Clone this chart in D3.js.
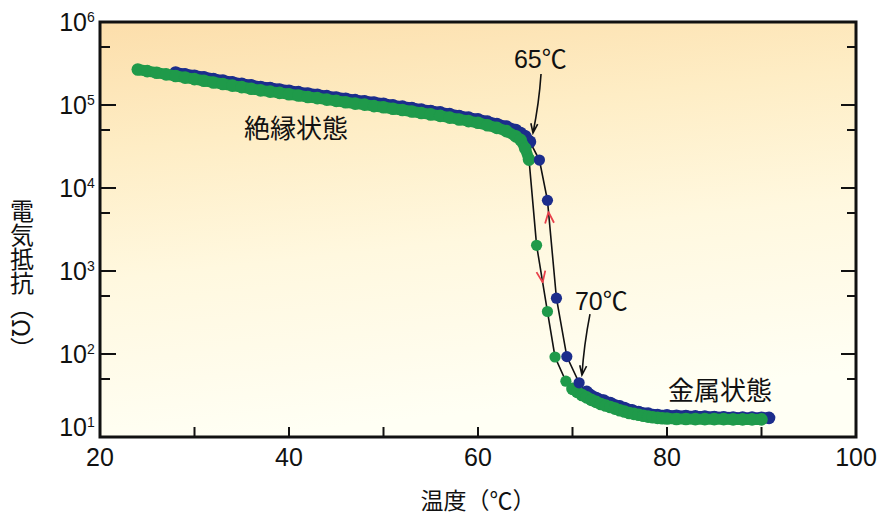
<!DOCTYPE html>
<html>
<head>
<meta charset="utf-8">
<script src="https://cdn.jsdelivr.net/npm/d3@7"></script>
<style>
  html, body { margin: 0; padding: 0; background: #ffffff; }
  svg { display: block; }
</style>
</head>
<body>
<svg id="chart" width="886" height="523"></svg>
<script>
// Heating run (blue): insulating branch, switching points, metallic branch  [°C, Ω]
const heatInsulating = [
  [28, 246000], [29, 235000], [30, 225000], [31, 216000], [32, 206000], [33, 197000],
  [34, 188000], [35, 180000], [36, 173000], [37, 165000], [38, 160000], [39, 154000],
  [40, 148500], [41, 143000], [42, 137500], [43, 133000], [44, 128000], [45, 123000],
  [46, 119000], [47, 114500], [48, 111000], [49, 107000], [50, 103500], [51, 99000],
  [52, 95700], [53, 92000], [54, 88000], [55, 84700], [56, 81400], [57, 77600],
  [58, 73700], [59, 70400], [60, 67100], [61, 63000], [62, 59000], [63, 55000],
  [64, 50000], [64.5, 46000], [65, 42000], [65.5, 36000]
];
const heatSwitch = [[66.5, 21700], [67.35, 7100], [68.3, 470], [69.4, 93], [70.7, 45]];
const heatMetal = [
  [71.5, 35], [72.5, 29.5], [73.3, 27.5], [74, 25.7], [75, 23.4], [75.5, 22.4],
  [76.3, 21], [77, 20], [78, 19.1], [79, 18.4], [80, 18.2], [81, 18], [82, 17.9],
  [83, 17.7], [84, 17.6], [85, 17.4], [86, 17.3], [87, 17.2], [88, 17.1], [89, 17.1],
  [90, 17], [90.8, 17]
];

// Cooling run (green)
const coolInsulating = [
  [24, 268000], [25, 256000], [26, 245000], [27, 234000], [28, 224000], [29, 214000],
  [30, 205000], [31, 196000], [32, 187000], [33, 179000], [34, 171000], [35, 164000],
  [36, 157000], [37, 150000], [38, 145000], [39, 140000], [40, 135000], [41, 130000],
  [42, 125000], [43, 121000], [44, 116000], [45, 112000], [46, 108000], [47, 104000],
  [48, 101000], [49, 97000], [50, 94000], [51, 90000], [52, 87000], [53, 83500],
  [54, 80000], [55, 77000], [56, 74000], [57, 70500], [58, 67000], [59, 64000],
  [60, 61000], [61, 57000], [62, 53000], [63, 48500], [64, 42000], [64.5, 38000],
  [65, 30000], [65.4, 22000]
];
const coolSwitch = [[66.2, 2040], [67.35, 325], [68.15, 92], [69.3, 47]];
const coolMetal = [
  [70, 38], [70.5, 35], [71, 32], [71.5, 30], [72, 28], [72.5, 26.5], [73, 25],
  [73.5, 24], [74, 23], [74.5, 22], [75, 21], [75.5, 20.3], [76, 19.5], [76.5, 19],
  [77, 18.5], [77.5, 18], [78, 17.6], [78.5, 17.3], [79, 17], [79.5, 16.8], [80, 16.7],
  [81, 16.5], [82, 16.5], [83, 16.4], [84, 16.4], [85, 16.4], [86, 16.4], [87, 16.3],
  [88, 16.3], [89, 16.3], [90, 16.3]
];

// Axis ticks
const xTickLabels = [20, 40, 60, 80, 100];
const xMinorTicks = [30, 40, 50, 60, 70, 80, 90];
const yExponents = [1, 2, 3, 4, 5, 6];
const yMinorTicks = [50, 500, 5000, 50000, 500000];

// Text annotations placed in data space [°C, Ω]
const stateLabels = [
  { text: "絶縁状態", t: 40.74, r: 40000 },
  { text: "金属状態", t: 85.6, r: 27.9 }
];
const tempLabels = [
  { text: "65℃", t: 66.6, r: 279000, anchor: "middle",
    from: [66.67, 236000], to: [65.82, 46000], bend: 2 },
  { text: "70℃", t: 70.26, r: 339, anchor: "start",
    from: [71.85, 303], to: [71.0, 55.8], bend: -2 }
];

const colors = { heat: "#1c2d8c", cool: "#1f9a4a", arrow: "#e8404a", ink: "#111111" };

const svg = d3.select("#chart");
const plot = { left: 100, right: 856, top: 22, bottom: 437 };

const x = d3.scaleLinear().domain([20, 100]).range([plot.left, plot.right]);
const y = d3.scaleLog().domain([10, 1e6]).range([plot.bottom, plot.top]);

// Background wash of the plotting area
const defs = svg.append("defs");
const grad = defs.append("linearGradient")
  .attr("id", "bg").attr("x1", 0).attr("y1", 0).attr("x2", 0.2).attr("y2", 1);
[["0", "#fcdeab"], ["0.3", "#feedc5"], ["0.6", "#fff8df"], ["0.85", "#fffcec"], ["1", "#fffff4"]]
  .forEach(([o, c]) => grad.append("stop").attr("offset", o).attr("stop-color", c));

svg.append("rect")
  .attr("x", plot.left).attr("y", plot.top)
  .attr("width", plot.right - plot.left).attr("height", plot.bottom - plot.top)
  .attr("fill", "url(#bg)");

const line = d3.line().x(d => x(d[0])).y(d => y(d[1]));

// Thin black connectors through the switching points
function connector(ins, sw, met) {
  const pts = [ins[ins.length - 1], ...sw, met[0]];
  svg.append("path").attr("d", line(pts))
    .attr("fill", "none").attr("stroke", colors.ink).attr("stroke-width", 1.6);
}
connector(heatInsulating, heatSwitch, heatMetal);
connector(coolInsulating, coolSwitch, coolMetal);

// Dense measurement bands
function band(data, color) {
  svg.append("path").attr("d", line(data))
    .attr("fill", "none").attr("stroke", color).attr("stroke-width", 11)
    .attr("stroke-linecap", "round").attr("stroke-linejoin", "round");
  svg.append("g").selectAll("circle").data(data).join("circle")
    .attr("cx", d => x(d[0])).attr("cy", d => y(d[1])).attr("r", 6.3)
    .attr("fill", color);
}
function dots(data, color) {
  svg.append("g").selectAll("circle").data(data).join("circle")
    .attr("cx", d => x(d[0])).attr("cy", d => y(d[1])).attr("r", 5.6)
    .attr("fill", color);
}

band(heatInsulating, colors.heat);
band(heatMetal, colors.heat);
band(coolInsulating, colors.cool);
band(coolMetal, colors.cool);
dots(coolSwitch, colors.cool);
dots(heatSwitch, colors.heat);

// Red direction chevrons on the switching branches
function chevron(p0, p1, frac, dir) {
  const ax = x(p0[0]) + (x(p1[0]) - x(p0[0])) * frac;
  const ay = y(p0[1]) + (y(p1[1]) - y(p0[1])) * frac;
  let ang = Math.atan2(y(p1[1]) - y(p0[1]), x(p1[0]) - x(p0[0]));
  if (dir < 0) ang += Math.PI;
  const len = 12, spread = 0.38;
  const a1 = ang + Math.PI - spread, a2 = ang + Math.PI + spread;
  const p = d3.path();
  p.moveTo(ax + len * Math.cos(a1), ay + len * Math.sin(a1));
  p.lineTo(ax, ay);
  p.lineTo(ax + len * Math.cos(a2), ay + len * Math.sin(a2));
  svg.append("path").attr("d", p.toString())
    .attr("fill", "none").attr("stroke", colors.arrow).attr("stroke-width", 1.8)
    .attr("stroke-linejoin", "round");
}
chevron(heatSwitch[1], heatSwitch[2], 0.12, -1);
chevron(coolSwitch[0], coolSwitch[1], 0.56, 1);

// Frame and inward ticks
const tick = (x1, y1, x2, y2, w) => svg.append("line")
  .attr("x1", x1).attr("y1", y1).attr("x2", x2).attr("y2", y2)
  .attr("stroke", colors.ink).attr("stroke-width", w);

yExponents.forEach(e => {
  const v = y(Math.pow(10, e));
  tick(plot.left, v, plot.left + 16, v, 2);
  tick(plot.right, v, plot.right - 15, v, 2);
});
yMinorTicks.forEach(m => {
  const v = y(m);
  tick(plot.left, v, plot.left + 10, v, 2);
  tick(plot.right, v, plot.right - 9, v, 2);
});
xMinorTicks.forEach(t => {
  const v = x(t);
  tick(v, plot.bottom, v, plot.bottom - 10, 2);
});

svg.append("rect")
  .attr("x", plot.left).attr("y", plot.top)
  .attr("width", plot.right - plot.left).attr("height", plot.bottom - plot.top)
  .attr("fill", "none").attr("stroke", colors.ink).attr("stroke-width", 3);

// Tick labels
const numFont = "'Liberation Sans', Arial, 'Noto Sans CJK JP', sans-serif";
const jpFont = "'Noto Sans CJK JP', sans-serif";

svg.append("g").selectAll("text").data(xTickLabels).join("text")
  .attr("x", d => x(d)).attr("y", 466)
  .attr("text-anchor", "middle")
  .attr("font-family", numFont).attr("font-size", 25).attr("fill", colors.ink)
  .text(d => d);

yExponents.forEach(e => {
  const v = y(Math.pow(10, e)) - (e === 1 ? 10 : 0);
  svg.append("text")
    .attr("x", 87).attr("y", v + 9)
    .attr("text-anchor", "end")
    .attr("font-family", numFont).attr("font-size", 25).attr("fill", colors.ink)
    .text("10");
  svg.append("text")
    .attr("x", 87).attr("y", v)
    .attr("font-family", numFont).attr("font-size", 14).attr("fill", colors.ink)
    .text(e);
});

// Axis titles
svg.append("text")
  .attr("x", x(60)).attr("y", 509)
  .attr("text-anchor", "middle")
  .attr("font-family", jpFont).attr("font-size", 23).attr("fill", colors.ink)
  .text("温度（℃）");

svg.append("text")
  .attr("x", 22).attr("y", 199)
  .attr("font-family", jpFont).attr("font-size", 24).attr("fill", colors.ink)
  .style("writing-mode", "vertical-rl")
  .text("電気抵抗（Ω）");

// State labels
stateLabels.forEach(l => {
  svg.append("text")
    .attr("x", x(l.t)).attr("y", y(l.r))
    .attr("text-anchor", "middle")
    .attr("font-family", jpFont).attr("font-size", 26).attr("fill", colors.ink)
    .text(l.text);
});

// Temperature call-outs with arrows
tempLabels.forEach(l => {
  svg.append("text")
    .attr("x", x(l.t)).attr("y", y(l.r))
    .attr("text-anchor", l.anchor)
    .attr("font-family", numFont).attr("font-size", 25).attr("fill", colors.ink)
    .text(l.text);
  const x0 = x(l.from[0]), y0 = y(l.from[1]), x1 = x(l.to[0]), y1 = y(l.to[1]);
  const p = d3.path();
  p.moveTo(x0, y0);
  p.quadraticCurveTo((x0 + x1) / 2 + l.bend, (y0 + y1) / 2, x1, y1);
  const ang = Math.atan2(y1 - y0, x1 - x0);
  const len = 10, spread = 0.35;
  p.moveTo(x1 + len * Math.cos(ang + Math.PI - spread), y1 + len * Math.sin(ang + Math.PI - spread));
  p.lineTo(x1, y1);
  p.lineTo(x1 + len * Math.cos(ang + Math.PI + spread), y1 + len * Math.sin(ang + Math.PI + spread));
  svg.append("path").attr("d", p.toString())
    .attr("fill", "none").attr("stroke", colors.ink).attr("stroke-width", 1.6);
});
</script>
</body>
</html>
